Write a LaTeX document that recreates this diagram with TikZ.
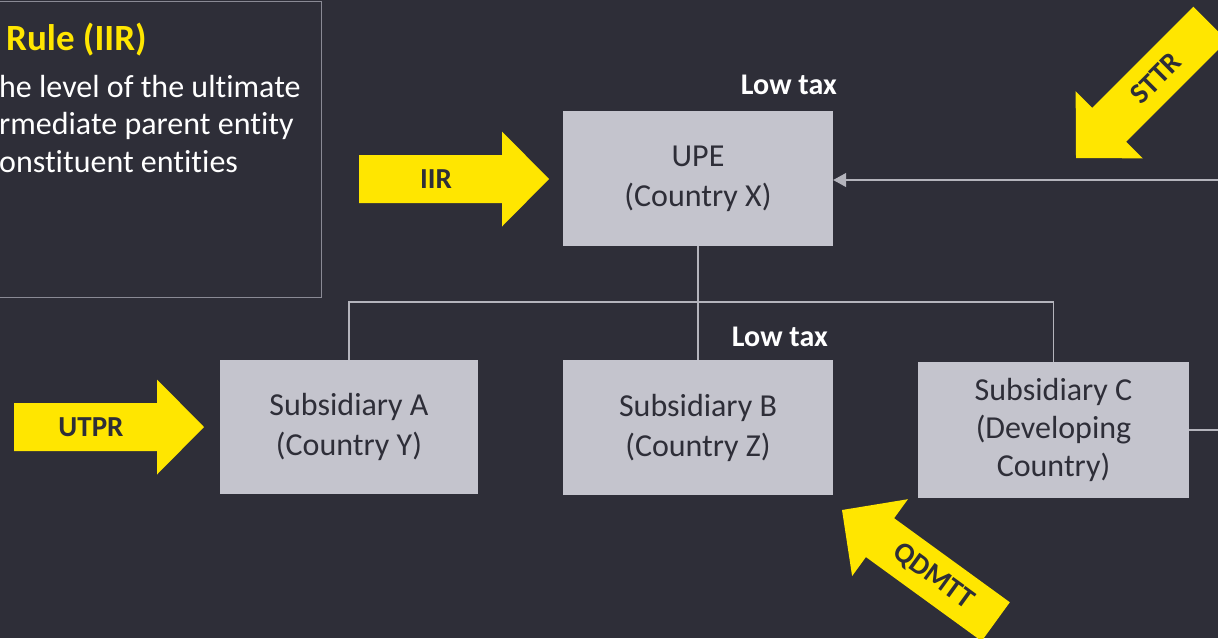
\documentclass[tikz,border=0pt]{standalone}
\usepackage{fontspec}
\setmainfont{Carlito}[Ligatures=NoCommon]
\usetikzlibrary{arrows.meta}
\definecolor{bg}{HTML}{2E2E38}
\definecolor{boxfill}{HTML}{C4C4CD}
\definecolor{eyyellow}{HTML}{FFE600}
\definecolor{linegray}{HTML}{B4B4BC}
\definecolor{framegray}{HTML}{8A8A95}
\tikzset{
  entity/.style={fill=boxfill, draw=none, text=bg, align=center, inner sep=0pt,
    font=\fontsize{32}{40}\selectfont},
  lowtax/.style={text=white, font=\bfseries\fontsize{30}{36}\selectfont, inner sep=0pt},
  conn/.style={draw=linegray, line width=1.3pt},
  arrowlabel/.style={text=bg, font=\bfseries\fontsize{29}{34}\selectfont, inner sep=0pt},
  bodytext/.style={text=white, font=\fontsize{32}{38}\selectfont, inner sep=0pt, anchor=base west},
}
% yellow block arrow: #1 tip x, #2 tip y, #3 direction angle, #4 label angle, #5 label, #6 name
\newcommand{\blockarrow}[6]{%
  \begin{scope}[shift={(#1,#2)}, rotate=#3]
    \fill[eyyellow] (0,0) -- (-47,47.5) -- (-47,24) -- (-190,24) -- (-190,-24)
      -- (-47,-24) -- (-47,-47.5) -- cycle;
    \node[arrowlabel, rotate=#4] (#6) at (-113,0) {#5};
  \end{scope}}
\begin{document}
\begin{tikzpicture}[x=1pt,y=1pt]
\fill[bg] (0,0) rectangle (1218,-638);
\useasboundingbox (0,0) rectangle (1218,-638);

% left text box (partly off-canvas)
\draw[framegray, line width=1pt] (-20,-1) -- (321,-1) -- (321,-297) -- (-20,-297);
\node[text=eyyellow, font=\bfseries\fontsize{37}{42}\selectfont, inner sep=0pt, anchor=base west] (title) at (6,-50) {Rule (IIR)};
\node[bodytext] (l1) at (-1,-97) {he level of the ultimate};
\node[bodytext] (l2) at (-1,-134) {rmediate parent entity};
\node[bodytext] (l3) at (-1,-172) {onstituent entities};

% entity boxes
\node[entity, minimum width=270, minimum height=135] (upe) at (698,-178.5) {UPE\\(Country X)};
\node[entity, minimum width=258, minimum height=134] (a) at (349,-427) {Subsidiary A\\(Country Y)};
\node[entity, minimum width=270, minimum height=135] (b) at (698,-427.5) {Subsidiary B\\(Country Z)};
\node[entity, minimum width=271, minimum height=136, font=\fontsize{32}{38}\selectfont] (c) at (1053.5,-430) {Subsidiary C\\(Developing\\Country)};

\node[lowtax, anchor=base east] (lt1) at (837,-94) {Low tax};
\node[lowtax, anchor=base east] (lt2) at (828,-346) {Low tax};

% connectors
\coordinate (bus) at (698,-302);
\coordinate (edgeC) at (1218,-430);
\coordinate (edgeU) at (1218,-180);
\draw[conn] (upe.south) -- (b.north);
\draw[conn] (a.north) |- (bus) -| (c.north);
\draw[conn] (c.east) -- (edgeC);
\draw[conn, -{Triangle[width=14pt,length=13pt]}] (edgeU) -- (upe.east |- edgeU);

% yellow arrows
\blockarrow{549}{-179}{0}{0}{IIR}{iir}
\blockarrow{204}{-427}{0}{0}{UTPR}{utpr}
\blockarrow{1076}{-158}{225}{45}{STTR}{sttr}
\blockarrow{842}{-510}{144}{-36}{QDMTT}{qdmtt}
\end{tikzpicture}
\end{document}
